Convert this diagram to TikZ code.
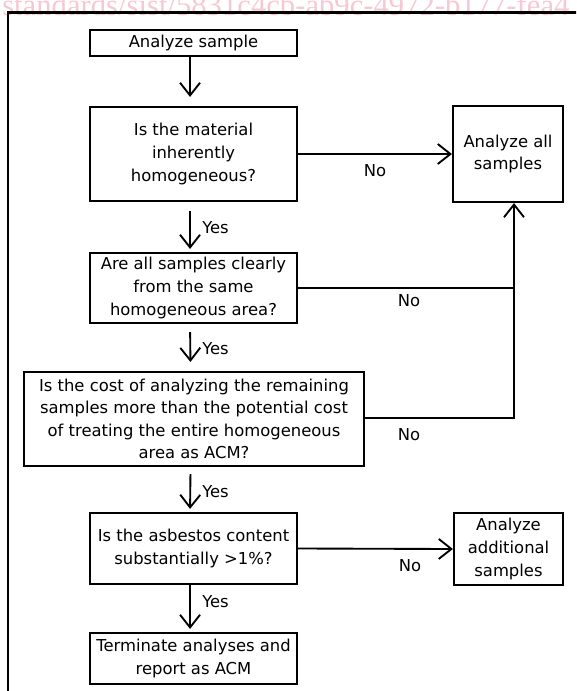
\documentclass[tikz,border=0pt]{standalone}
\usepackage{fontspec}
\setmainfont{DejaVu Sans}
\newfontfamily\wmfamily{Liberation Serif}
\usetikzlibrary{arrows.meta}
\definecolor{wmpink}{RGB}{247,200,211}
\tikzset{
  box/.style 2 args={draw, line width=1.6pt, inner sep=0pt, align=center,
    minimum width=#1*0.75pt, minimum height=#2*0.75pt,
    font=\fontsize{12.3pt}{16.9pt}\selectfont},
  lbl/.style={inner sep=0pt, font=\fontsize{12.3pt}{14pt}\selectfont},
  arr/.style={line width=1.4pt, -{Straight Barb[length=9.5pt,width=15pt,line width=1.4pt]}},
  conn/.style={line width=1.4pt}
}
\begin{document}
\begin{tikzpicture}[x=0.75pt,y=-0.75pt]
\path[use as bounding box] (0,0) rectangle (576,691);
\clip (0,0) rectangle (576,691);
% watermark
\node[anchor=base west, inner sep=0pt, text=wmpink,
  font=\wmfamily\fontsize{23pt}{23pt}\selectfont] (wm) at (2,16)
  {standards/sist/5831c4cb-ab9c-4972-b177-fea4};
% frame
\draw[line width=1.8pt] (8,12.7) rectangle (620,740);
% boxes
\node[box={207}{26}] (b1) at (193.5,43) {Analyze sample};
\node[box={207}{94}] (b2) at (193.5,154) {Is the material\\inherently\\homogeneous?};
\node[box={110}{96}] (aa) at (508,154) {Analyze all\\samples};
\node[box={207}{70}] (b3) at (193.5,288) {Are all samples clearly\\from the same\\homogeneous area?};
\node[box={340}{94}] (b4) at (194,419) {Is the cost of analyzing the remaining\\samples more than the potential cost\\of treating the entire homogeneous\\area as ACM?};
\node[box={207}{71}] (b5) at (193.5,548.5) {Is the asbestos content\\substantially >1\%?};
\node[box={109}{72}] (ad) at (508.5,549) {Analyze\\additional\\samples};
\node[box={207}{51}] (b6) at (193.5,658.5) {Terminate analyses and\\report as ACM};
% vertical trunk connectors
\draw[arr, shorten >=6.75pt] ([xshift=-2.6pt]b1.south) -- ([xshift=-2.6pt]b2.north);
\draw[arr, shorten <=6.75pt, shorten >=2.25pt] ([xshift=-2.6pt]b2.south) -- ([xshift=-2.6pt]b3.north);
\draw[arr, shorten <=6pt, shorten >=6.75pt] ([xshift=-2.6pt]b3.south) -- ([xshift=-2.6pt]b4.north);
\draw[arr, shorten <=5.25pt, shorten >=2.25pt] ([xshift=-2.6pt]b4.south) -- ([xshift=-2.6pt]b5.north);
\draw[arr, shorten >=2.25pt] ([xshift=-2.6pt]b5.south) -- ([xshift=-2.6pt]b6.north);
% No branches
\draw[arr] (b2.east) -- (aa.west);
\coordinate (j) at ([xshift=4.5pt]aa.south |- b3.east);
\draw[arr] (b3.east) -| ([xshift=4.5pt]aa.south);
\draw[conn] ([yshift=0.75pt]b4.east) -| (j);
\draw[arr] (b5.east) -- (ad.west);
% labels
\node[lbl, anchor=west] (y1) at (202,228) {Yes};
\node[lbl, anchor=west] (y2) at (202,349) {Yes};
\node[lbl, anchor=west] (y3) at (202,492) {Yes};
\node[lbl, anchor=west] (y4) at (202,602) {Yes};
\node[lbl] (n1) at (375,171) {No};
\node[lbl] (n2) at (409,301) {No};
\node[lbl] (n3) at (409,435) {No};
\node[lbl] (n4) at (410,566) {No};
\end{tikzpicture}
\end{document}
